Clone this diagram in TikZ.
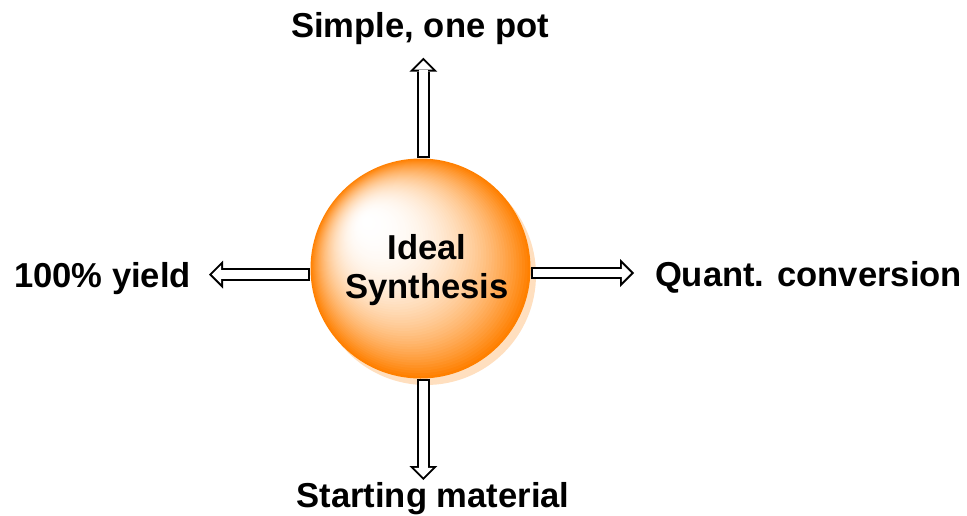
\documentclass[tikz,border=0pt]{standalone}
\usepackage{fontspec}
\setmainfont{Liberation Sans}
\usetikzlibrary{arrows.meta,calc}

\begin{document}
\begin{tikzpicture}[x=0.5pt, y=-0.5pt,
  lbl/.style={font=\fontsize{17.3}{19.5}\selectfont\bfseries, anchor=base, inner sep=0pt},
  hollow/.style={line width=6.25pt, -{Triangle[width=14pt, length=7pt, line width=0pt]},
    postaction={draw=white, line width=4.25pt, shorten <=1pt, shorten >=1.41pt,
      -{Triangle[width=9.2pt, length=4.6pt, line width=0pt]}}}]

  \useasboundingbox (0,0) rectangle (967,515);

  % sphere, shadow first
  \coordinate (glow) at (365,220);
  \coordinate (mid) at (420.5,268.5);
  \fill[orange!25] (426,275) circle[radius=55pt];
  \foreach \i in {60,...,1} {
    \pgfmathsetmacro{\rr}{\i/60}
    \pgfmathsetmacro{\pc}{100*\rr^2.3}
    \fill[orange!\pc!white] ($(glow)!\rr!(mid)$) circle[radius=\rr*55pt];
  }
  \node[circle, minimum size=110pt, inner sep=0pt] (ball) at (mid) {};
  \node[font=\fontsize{17.3}{19.5}\selectfont\bfseries, align=center, inner sep=0pt]
    (name) at (427,270.5) {Ideal\\Synthesis};

  % arrows out of the sphere
  \coordinate (tipN) at (423.3,57.7);
  \coordinate (tipS) at (423.3,480);
  \coordinate (tipW) at (209,274.5);
  \coordinate (tipE) at (634,273);
  \draw[hollow] (tipN |- ball.north) -- (tipN);
  \draw[hollow] (tipS |- ball.south) -- (tipS);
  \draw[hollow] (ball.west |- tipW) -- (tipW);
  \draw[hollow] (ball.east |- tipE) -- (tipE);

  \node[lbl] (simple) at (420,37.7) {Simple, one pot};
  \node[lbl] (yield) at (102.5,287.7) {100\% yield};
  \node[lbl] (quant) at (808.5,286.7) {Quant. conversion};
  \node[lbl] (start) at (433,507.7) {Starting material};

\end{tikzpicture}
\end{document}
